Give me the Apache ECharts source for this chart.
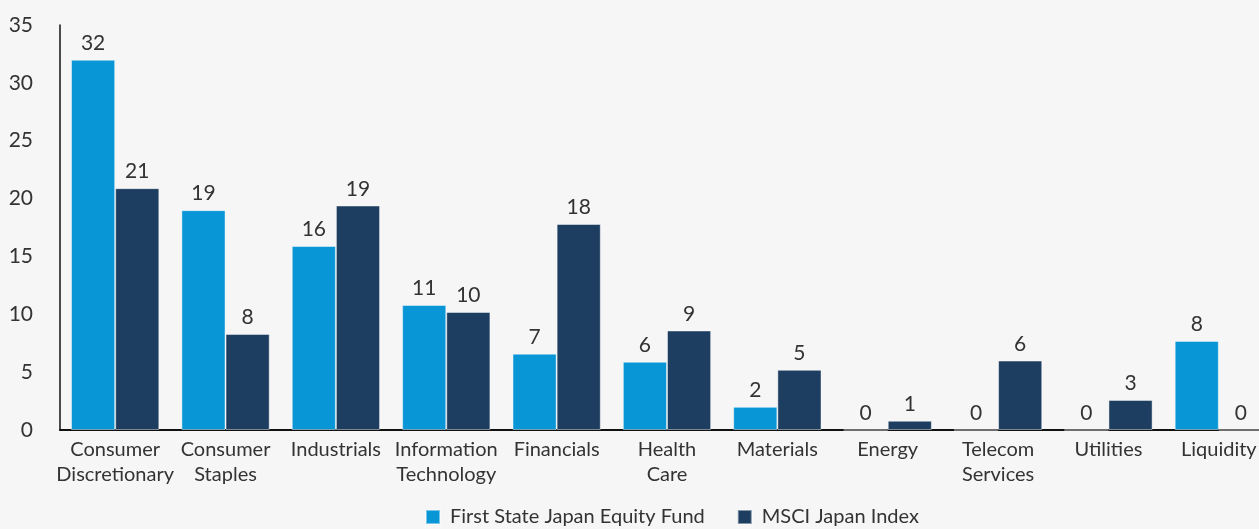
<!DOCTYPE html>
<html>
<head>
<meta charset="utf-8">
<script src="https://cdn.jsdelivr.net/npm/echarts@6/dist/echarts.min.js"></script>
<style>
	html, body { margin: 0; padding: 0; background: #f6f6f6; }
	#chart { width: 1259px; height: 529px; }
</style>
</head>
<body>
<div id="chart"></div>
<script>
// 行业分类
var sectors = ['Consumer\nDiscretionary', 'Consumer\nStaples', 'Industrials', 'Information\nTechnology', 'Financials',
	'Health\nCare', 'Materials', 'Energy', 'Telecom\nServices', 'Utilities', 'Liquidity'];
// 基金权重 (%)
var fundValues = [32.0, 19.0, 15.9, 10.8, 6.6, 5.9, 2.0, 0, 0, 0, 7.7];
// 指数权重 (%)
var indexValues = [20.9, 8.3, 19.4, 10.2, 17.8, 8.6, 5.2, 0.8, 6.0, 2.6, 0];
var seriesNames = ['First State Japan Equity Fund', 'MSCI Japan Index'];
var yTicks = [0, 5, 10, 15, 20, 25, 30, 35];

var font = 'Lato';
var textColor = '#333333';

// 生成柱状系列
function buildSeries(name, data, color) {
	return {
		name: name,
		type: 'bar',
		data: data,
		barGap: '0%',
		barCategoryGap: '20%',
		itemStyle: {
			color: color,
			borderColor: 'rgba(255,255,255,0.45)',
			borderWidth: 1
		},
		label: {
			show: true,
			position: 'top',
			distance: 6,
			color: textColor,
			fontFamily: font,
			fontSize: 21,
			formatter: function(p) { return Math.round(p.value); } // 标签取整
		}
	};
}

var myChart = echarts.init(document.getElementById('chart'));
var option = {
	backgroundColor: '#f6f6f6',
	animation: false,
	grid: {
		left: 60,
		top: 25,
		bottom: 99,
		width: 1214, // 右侧超出画布
		outerBoundsMode: 'none'
	},
	legend: {
		left: 420,
		bottom: -3,
		itemWidth: 14,
		itemHeight: 14,
		itemGap: 32,
		icon: 'rect',
		textStyle: { color: textColor, fontFamily: font, fontSize: 20, padding: [0, 0, 0, 5] },
		data: seriesNames
	},
	xAxis: {
		type: 'category',
		data: sectors,
		axisLine: { lineStyle: { color: '#111', width: 2 } },
		axisTick: { show: false },
		axisLabel: {
			interval: 0,
			margin: 7,
			color: textColor,
			fontFamily: font,
			fontSize: 20,
			lineHeight: 25
		}
	},
	yAxis: {
		type: 'value',
		min: yTicks[0],
		max: yTicks[yTicks.length - 1],
		interval: 5,
		axisLine: { show: true, lineStyle: { color: '#111', width: 1.5 } },
		axisTick: { show: false },
		splitLine: { show: false },
		axisLabel: {
			margin: 27,
			color: textColor,
			fontFamily: font,
			fontSize: 21
		}
	},
	series: [
		buildSeries(seriesNames[0], fundValues, '#0896d7'),
		buildSeries(seriesNames[1], indexValues, '#1d3e60')
	]
};
myChart.setOption(option);
</script>
</body>
</html>
